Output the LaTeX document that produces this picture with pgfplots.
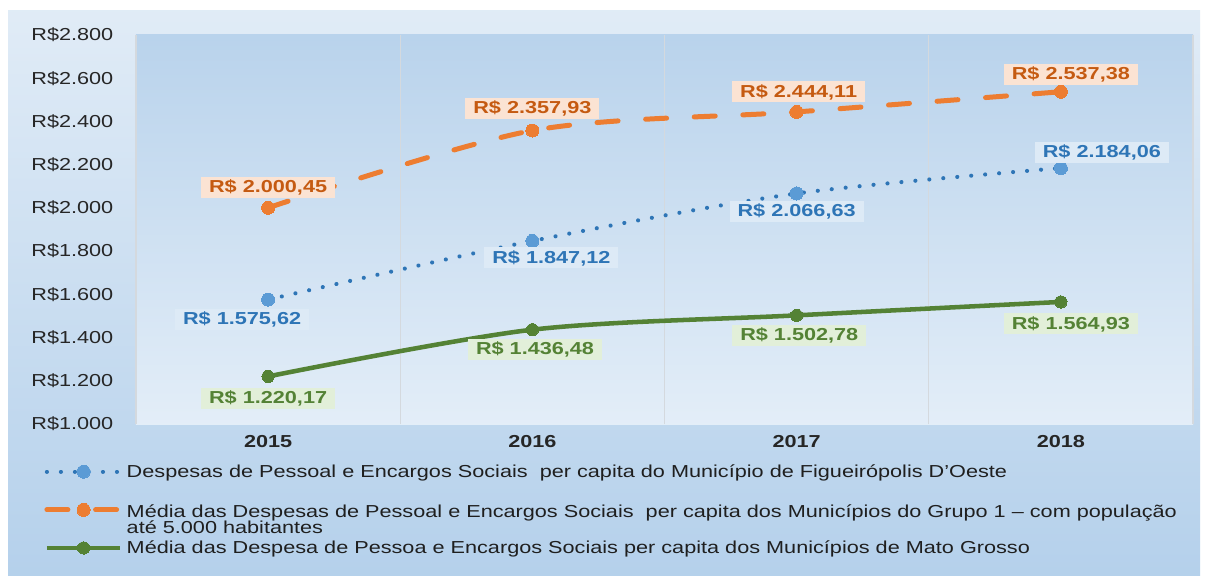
\documentclass[border=0pt]{standalone}
\usepackage{fontspec}
\setmainfont{Liberation Sans}[FakeStretch=1.25]
\usepackage{pgfplots}
\pgfplotsset{compat=1.18}
\usepackage{pgfplotstable}
\definecolor{cblue}{HTML}{2E75B6}
\definecolor{cbluem}{HTML}{5B9BD5}
\definecolor{bluefill}{HTML}{DDEAF6}
\definecolor{corange}{HTML}{ED7D31}
\definecolor{orangetext}{HTML}{C55A11}
\definecolor{orangefill}{HTML}{FBE3D3}
\definecolor{cgreen}{HTML}{548235}
\definecolor{greenfill}{HTML}{E2EFD9}
\definecolor{ptop}{HTML}{CDDFF1}
\definecolor{pmid}{HTML}{B3CFEA}
\definecolor{pbot}{HTML}{F8FBFE}
\definecolor{otop}{HTML}{F6F9FC}
\definecolor{omid}{HTML}{B4D0EB}
\definecolor{obot}{HTML}{C9DCEF}
\definecolor{gridc}{HTML}{D4D9DE}
\pgfdeclareverticalshading{plotbg}{100bp}{color(0bp)=(pbot); color(82bp)=(pmid); color(100bp)=(ptop)}
\pgfdeclareverticalshading{outerbg}{100bp}{color(0bp)=(obot); color(24bp)=(omid); color(100bp)=(otop)}

\pgfplotstableread{
x y dx dy
0 1575.62 -19.5 -15
1 1847.12 14.25 -12.75
2 2066.63 0 -13.5
3 2184.06 30.75 12
}\tblue
\pgfplotstableread{
x y dx dy
0 2000.45 0 15
1 2357.93 0 16.5
2 2444.11 1.5 15
3 2537.38 7.5 12.75
}\torange
\pgfplotstableread{
x y dx dy
0 1220.17 0 -16.5
1 1436.48 2 -15
2 1502.78 2 -15
3 1564.93 7.5 -16.5
}\tgreen

\begin{document}
\begin{tikzpicture}[font=\fontsize{13}{15}\selectfont]
\fill[white] (0,0) rectangle (905.25pt,431.25pt);
\shade[shading=outerbg] (6pt,0pt) rectangle (900pt,423pt);
\begin{axis}[
  at={(102pt,113.25pt)}, anchor=south west, scale only axis,
  width=792.75pt, height=291.75pt,
  xmin=-0.5, xmax=3.5, ymin=1000, ymax=2800,
  xtick={0,1,2,3}, xticklabels={2015,2016,2017,2018},
  ytick={1000,1200,...,2800},
  minor xtick={-0.5,0.5,1.5,2.5,3.5},
  xminorgrids, minor grid style={draw=gridc, line width=0.9pt},
  major tick length=0pt, minor tick length=0pt,
  axis line style={draw=none},
  /pgf/number format/1000 sep={.},
  /pgf/number format/assume math mode=true,
  yticklabel={R\$\pgfmathprintnumber{\tick}},
  yticklabel style={xshift=-13.5pt, text=black!85},
  xticklabel style={font=\bfseries\fontsize{13}{15}\selectfont, yshift=-5.25pt, text=black!85},
  axis background/.style={shade, shading=plotbg},
  clip=false,
  legend style={at={(axis description cs:-0.0869,-0.096)}, anchor=north west,
    draw=none, fill=none, inner sep=0pt, row sep=11.7pt, column sep=1pt,
    font=\fontsize{13}{12}\selectfont, text=black!88},
  legend cell align=left,
  legend image code/.code={\draw[mark repeat=2,mark phase=2,#1] plot coordinates {(0pt,0pt)(27.5pt,0pt)(55pt,0pt)};},
  point meta=y,
]
\pgfplotsset{lbl/.style={
  visualization depends on={\thisrow{dx}\as\dx},
  visualization depends on={\thisrow{dy}\as\dy},
  nodes near coords={R\$ \pgfmathprintnumber[fixed, fixed zerofill, precision=2, use comma, 1000 sep={.}]{\pgfplotspointmeta}},
  every node near coord/.append style={anchor=center, xshift=\dx pt, yshift=\dy pt,
    font=\bfseries\fontsize{13}{15}\selectfont, inner xsep=6pt, inner ysep=2pt}}}
\addplot[cblue, line width=3.1pt, dash pattern=on 0.01pt off 10.5pt, line cap=round, smooth,
  mark=*, mark size=4.9pt, mark options={solid, fill=cbluem, draw=cbluem, line width=0pt},
  lbl, nodes near coords style={fill=bluefill, text=cblue}]
  table[x=x,y=y]{\tblue};
\addlegendentry{Despesas de Pessoal e Encargos Sociais\ \ per capita do Município de Figueirópolis D'Oeste}
\addplot[corange, line width=3.75pt, dash pattern=on 15.75pt off 20.75pt, line cap=round, smooth,
  mark=*, mark size=4.9pt, mark options={solid, fill=corange, draw=corange, line width=0pt},
  lbl, nodes near coords style={fill=orangefill, text=orangetext}]
  table[x=x,y=y]{\torange};
\addlegendentry{\rule{0pt}{13.25pt}\makebox[0pt][l]{\raisebox{-12pt}[0pt][0pt]{até 5.000 habitantes}}Média das Despesas de Pessoal e Encargos Sociais\ \ per capita dos Municípios do Grupo 1 -- com população}
\addplot[cgreen, line width=3.4pt, smooth,
  mark=*, mark size=4.6pt, mark options={solid, fill=cgreen, draw=cgreen, line width=0pt},
  lbl, nodes near coords style={fill=greenfill, text=cgreen}]
  table[x=x,y=y]{\tgreen};
\addlegendentry{Média das Despesa de Pessoa e Encargos Sociais per capita dos Municípios de Mato Grosso}
\end{axis}
\end{tikzpicture}
\end{document}
